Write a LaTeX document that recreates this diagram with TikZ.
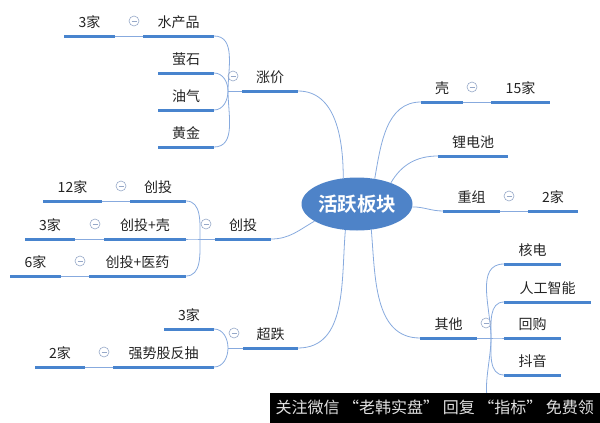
\documentclass[tikz,border=0pt]{standalone}
\usepackage{fontspec}
\setmainfont{Noto Sans CJK SC}[BoldFont={Noto Sans CJK SC Bold}]
\usetikzlibrary{shapes.geometric}

\definecolor{linkblue}{RGB}{135,170,222}
\definecolor{barblue}{RGB}{72,132,206}
\definecolor{hubblue}{RGB}{78,131,200}
\definecolor{foldgray}{RGB}{150,168,200}
\definecolor{inkgray}{RGB}{35,35,35}

\begin{document}
\begin{tikzpicture}[
  x=1pt,y=-1pt,
  uline/.style={draw=barblue,line width=3pt},
  branch/.style={draw=linkblue,line width=0.8pt},
  topic/.style={anchor=south west,minimum width=#1pt,inner xsep=0pt,inner ysep=8.5pt,
    text height=11pt,text depth=0pt,outer sep=0pt,text=inkgray,font=\fontsize{14}{14}\selectfont,
    append after command={(\tikzlastnode.south west) edge[uline] (\tikzlastnode.south east)}},
  fold/.style={circle,draw=foldgray,line width=0.6pt,minimum size=10pt,inner sep=0pt,
    path picture={\draw[foldgray,line width=0.7pt]
      ([xshift=-2.5pt]path picture bounding box.center) -- ([xshift=2.5pt]path picture bounding box.center);}},
  hub/.style={ellipse,fill=hubblue,minimum width=111pt,minimum height=53pt,inner sep=0pt,
    text=white,font=\fontsize{19.5}{20}\selectfont\bfseries}
]
  \useasboundingbox (0,0) rectangle (600,423);

  \node[hub] (hub) at (357,204) {活跃板块};

  \node[topic=56] (zhangjia) at (242,91) {涨价};
  \node[topic=71] (shuichan) at (143,36) {水产品};
  \node[topic=51] (shuichan-n) at (64,36) {3家};
  \node[topic=56] (yingshi) at (158,73) {萤石};
  \node[topic=56] (youqi) at (158,110) {油气};
  \node[topic=56] (huangjin) at (158,147) {黄金};

  \node[topic=56] (chuangtou) at (215,239) {创投};
  \node[topic=56] (ct-a) at (130,201) {创投};
  \node[topic=59] (ct-a-n) at (43,201) {12家};
  \node[topic=82] (ct-b) at (104,239) {创投+壳};
  \node[topic=50] (ct-b-n) at (25,239) {3家};
  \node[topic=97] (ct-c) at (89,276) {创投+医药};
  \node[topic=51] (ct-c-n) at (10,276) {6家};

  \node[topic=55] (chaodie) at (243,348) {超跌};
  \node[topic=50] (cd-a) at (164,329) {3家};
  \node[topic=101] (cd-b) at (113,367) {强势股反抽};
  \node[topic=50] (cd-b-n) at (35,367) {2家};

  \node[topic=42] (ke) at (421,102) {壳};
  \node[topic=59] (ke-n) at (491,102) {15家};
  \node[topic=70] (lidian) at (438,156) {锂电池};
  \node[topic=57] (chongzu) at (443,211) {重组};
  \node[topic=50] (chongzu-n) at (528,211) {2家};

  \node[topic=57] (qita) at (420,338) {其他};
  \node[topic=57] (hedian) at (504,264) {核电};
  \node[topic=87] (rengong) at (504,302) {人工智能};
  \node[topic=57] (huigou) at (504,338) {回购};
  \node[topic=57] (douyin) at (504,375) {抖音};
  \coordinate (qita-more) at (504,412);

  \draw[branch] (hub.118) to[out=90,in=0] (zhangjia.south east);
  \draw[branch] (hub.-158) to[out=-150,in=0] (chuangtou.south east);
  \draw[branch] (hub.-114) to[out=-95,in=0] (chaodie.south east);
  \draw[branch] (hub.55) to[out=80,in=180] (ke.south west);
  \draw[branch] (hub.32) to[out=60,in=180] (lidian.south west);
  \draw[branch] (hub.-3) to[out=0,in=180] (chongzu.south west);
  \draw[branch] (hub.-61) to[out=-85,in=180] (qita.south west);

  \coordinate (zhangjia-spine) at ([xshift=-14pt]zhangjia.south west);
  \coordinate (chuangtou-spine) at ([xshift=-15pt]chuangtou.south west);
  \coordinate (chaodie-spine) at ([xshift=-15pt]chaodie.south west);
  \coordinate (qita-spine) at ([xshift=14pt]qita.south east);
  \draw[branch] (zhangjia.south west) -- (zhangjia-spine);
  \draw[branch] (chuangtou.south west) -- (chuangtou-spine);
  \draw[branch] (chaodie.south west) -- (chaodie-spine);
  \draw[branch] (qita.south east) -- (qita-spine);

  \foreach \c/\a in {shuichan/90,yingshi/90,youqi/-90,huangjin/-90}
    \draw[branch] (zhangjia-spine) to[out=\a,in=0] (\c.south east);
  \foreach \c/\a in {ct-a/90,ct-b/180,ct-c/-90}
    \draw[branch] (chuangtou-spine) to[out=\a,in=0] (\c.south east);
  \foreach \c/\a in {cd-a/90,cd-b/-90}
    \draw[branch] (chaodie-spine) to[out=\a,in=0] (\c.south east);
  \foreach \c/\a in {hedian/90,rengong/90,huigou/0,douyin/-90}
    \draw[branch] (qita-spine) to[out=\a,in=180] (\c.south west);
  \draw[branch] (qita-spine) to[out=-90,in=180] (qita-more);

  \foreach \c in {shuichan,ct-a,ct-b,ct-c,cd-b}
    \draw[branch] (\c-n.south east) -- (\c.south west);
  \foreach \c in {ke,chongzu}
    \draw[branch] (\c.south east) -- (\c-n.south west);

  \foreach \c in {zhangjia,shuichan,chuangtou,ct-a,ct-b,ct-c,chaodie,cd-b}
    \node[fold] (fold-\c) at ([shift={(-9,-15)}]\c.south west) {};
  \foreach \c in {ke,chongzu,qita}
    \node[fold] (fold-\c) at ([shift={(9,-15)}]\c.south east) {};

  \node[fill=black,anchor=south east,minimum width=330pt,minimum height=30pt,inner sep=0pt,
    text=white!88!black,font=\fontsize{16}{16}\selectfont] (banner) at (600,423)
    {关注微信 “老韩实盘” 回复 “指标” 免费领};
\end{tikzpicture}
\end{document}
